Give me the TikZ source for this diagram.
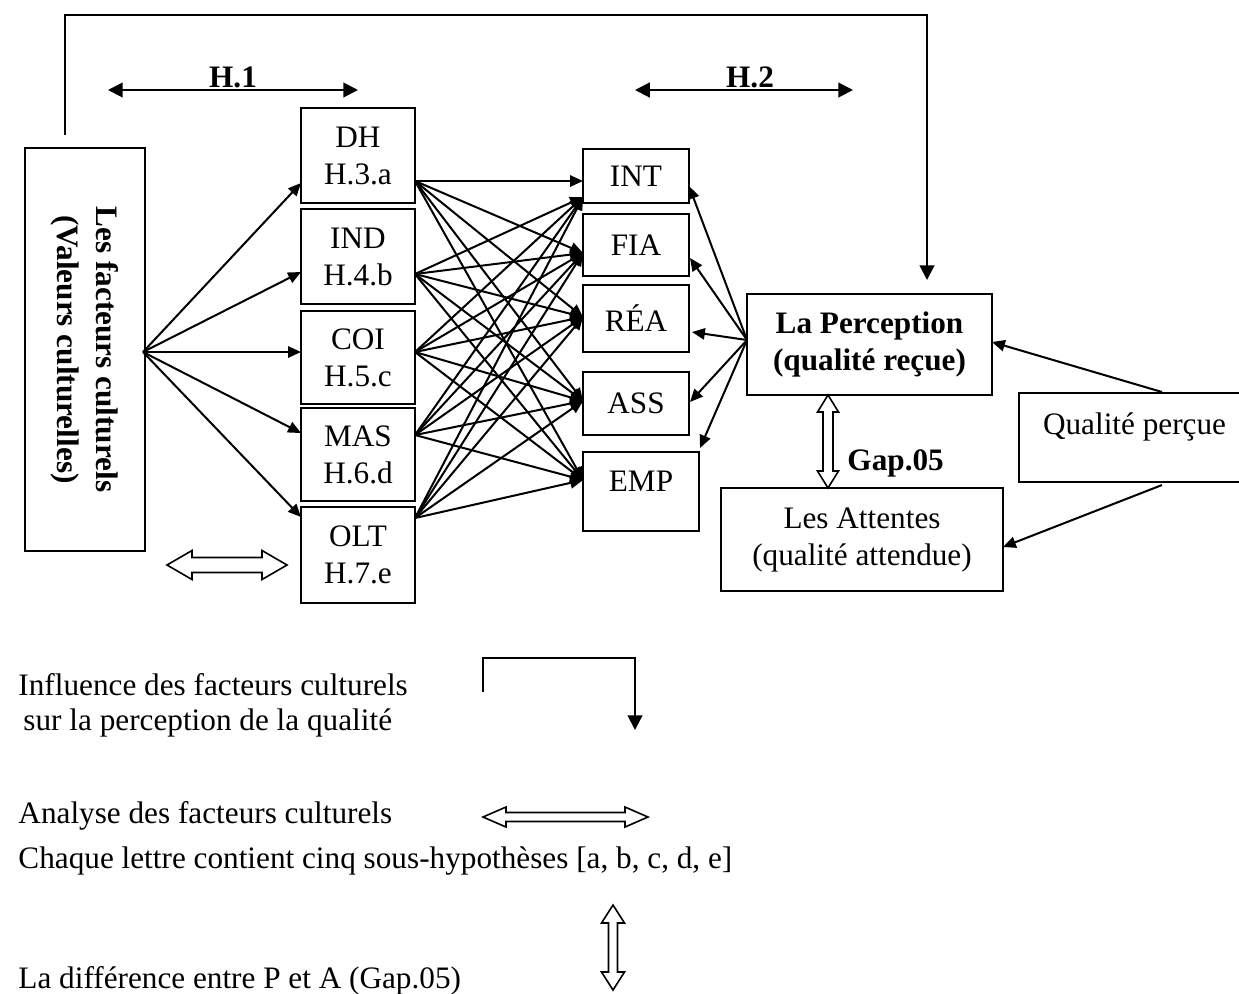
\documentclass[tikz,border=0pt]{standalone}
\usepackage{fontspec}
\setmainfont{Liberation Serif}
\usetikzlibrary{arrows.meta}

% hollow double arrows: horizontal (x1,x2,y,head length,head half width,shaft half width)
\newcommand\openHarrow[6]{%
  \draw[openarrow] (#1,#3) -- ({#1+#4},{#3-#5}) -- ({#1+#4},{#3-#6}) -- ({#2-#4},{#3-#6})
    -- ({#2-#4},{#3-#5}) -- (#2,#3) -- ({#2-#4},{#3+#5}) -- ({#2-#4},{#3+#6})
    -- ({#1+#4},{#3+#6}) -- ({#1+#4},{#3+#5}) -- cycle;}
% vertical (x,y1,y2,head length,head half width,shaft half width)
\newcommand\openVarrow[6]{%
  \draw[openarrow] (#1,#2) -- ({#1+#5},{#2+#4}) -- ({#1+#6},{#2+#4}) -- ({#1+#6},{#3-#4})
    -- ({#1+#5},{#3-#4}) -- (#1,#3) -- ({#1-#5},{#3-#4}) -- ({#1-#6},{#3-#4})
    -- ({#1-#6},{#2+#4}) -- ({#1-#5},{#2+#4}) -- cycle;}

\begin{document}
\begin{tikzpicture}[x=0.373pt,y=-0.373pt,
  font=\fontsize{11.65}{13.8}\selectfont,
  box/.style={draw,line width=0.75pt,inner sep=0pt,align=center},
  span/.style n args={4}{minimum width={(#3-#1)*0.373pt}, minimum height={(#4-#2)*0.373pt},
    at={({(#1+#3)/2},{(#2+#4)/2})}},
  link/.style={line width=0.75pt,-{Triangle[length=4.8pt,width=4.2pt]}},
  biglink/.style={line width=0.75pt,-{Triangle[length=5.5pt,width=5.5pt]}},
  bothlink/.style={line width=0.75pt,{Triangle[length=5.5pt,width=5.5pt]}-{Triangle[length=5.5pt,width=5.5pt]}},
  openarrow/.style={draw,line width=0.6pt,fill=white},
  lbl/.style={font=\bfseries\fontsize{11.65}{13.8}\selectfont},
]
\useasboundingbox (0,0) rectangle (1239,993);

% cultural factors
\node[box, span={25}{148}{145}{551}] (cult) {};
\node[rotate=-90, align=center, font=\bfseries\fontsize{11.65}{14.5}\selectfont]
  (cultxt) at (cult.center) {Les facteurs culturels\\(Valeurs culturelles)};

% cultural dimensions
\node[box, span={301}{108}{415}{203}] (dh)  {DH\\H.3.a};
\node[box, span={301}{209}{415}{304}] (ind) {IND\\H.4.b};
\node[box, span={301}{311}{415}{404}] (coi) {COI\\H.5.c};
\node[box, span={301}{408}{415}{501}] (mas) {MAS\\H.6.d};
\node[box, span={301}{507}{415}{603}] (olt) {OLT\\H.7.e};

% service quality dimensions
\node[box, span={583}{149}{689}{203}] (int) {INT};
\node[box, span={583}{214}{689}{276}] (fia) {FIA};
\node[box, span={583}{285}{689}{352}] (rea) {RÉA};
\node[box, span={583}{372}{689}{435}] (ass) {ASS};
\node[box, span={583}{452}{699}{531}, text depth=8pt] (emp) {EMP};

% perception / expectations
\node[box, span={747}{294}{992}{395}, font=\bfseries\fontsize{11.65}{13.8}\selectfont] (per)
  {La Perception\\(qualité reçue)};
\node[box, span={721}{488}{1003}{591}] (att) {Les Attentes\\(qualité attendue)};
\node[box, span={1019}{393}{1250}{482}, text depth=10pt] (qp) {Qualité perçue};

% ports on the boxes
\coordinate (hubL) at (143,352);
\coordinate (dh-in) at (301,183);
\coordinate (ind-in) at (301,272);
\coordinate (coi-in) at (301,352);
\coordinate (mas-in) at (301,433);
\coordinate (olt-in) at (301,517);
\coordinate (dh-out) at (415,181);
\coordinate (ind-out) at (415,274);
\coordinate (coi-out) at (415,352);
\coordinate (mas-out) at (415,435);
\coordinate (olt-out) at (415,518);
\coordinate (int-in1) at (583,181);
\coordinate (int-in2) at (583,197);
\coordinate (fia-in) at (583,253);
\coordinate (rea-in) at (583,317);
\coordinate (ass-in) at (583,401);
\coordinate (emp-in) at (583,480);
\coordinate (per-w) at (747,340);
\coordinate (int-r) at (689,186);
\coordinate (fia-r) at (690,258);
\coordinate (rea-r) at (692,332);
\coordinate (ass-r) at (690,402);
\coordinate (emp-r) at (700,448);
\coordinate (per-e) at (992,342);
\coordinate (att-e) at (1003,547);
\coordinate (qp-a) at (1162,392);
\coordinate (qp-b) at (1162,485);

% culture -> dimensions
\foreach \t in {dh,ind,coi,mas,olt}
  \draw[link] (hubL) -- (\t-in);

% dimensions -> quality dimensions
\draw[link] (dh-out) -- (int-in1);
\foreach \s in {ind,coi,mas,olt}
  \draw[link] (\s-out) -- (int-in2);
\foreach \s in {dh,ind,coi,mas,olt}
  \foreach \t in {fia,rea,ass,emp}
    \draw[link] (\s-out) -- (\t-in);

% perception -> quality dimensions
\foreach \t in {int,fia,rea,ass,emp}
  \draw[link] (per-w) -- (\t-r);

% perceived quality
\draw[link] (qp-a) -- (per-e);
\draw[link] (qp-b) -- (att-e);

% overall influence loop
\coordinate (loopA) at (65,135);
\coordinate (loopB) at (927,280);
\draw[biglink] (loopA) -- (65,15) -- (927,15) -- (loopB);

% hypotheses H.1 and H.2
\coordinate (h1a) at (108,90);
\coordinate (h1b) at (358,90);
\coordinate (h2a) at (635,90);
\coordinate (h2b) at (853,90);
\draw[bothlink] (h1a) -- (h1b);
\draw[bothlink] (h2a) -- (h2b);
\node[lbl] (h1) at (233,77) {H.1};
\node[lbl] (h2) at (750,77) {H.2};

% analysis arrow and gap
\openHarrow{167}{287}{565}{25}{14.5}{7.5}
\openVarrow{828}{395}{488}{17}{10.5}{5}
\node[lbl, anchor=west] (gap) at (838,463) {Gap.05};

% legend
\node[anchor=base west] (lg1) at (9,695) {Influence des facteurs culturels};
\node[anchor=base west] (lg1b) at (14,730) {sur la perception de la qualité};
\coordinate (lgA) at (483,692);
\coordinate (lgB) at (635,730);
\draw[biglink] (lgA) -- (483,658) -- (635,658) -- (lgB);

\node[anchor=base west] (lg2) at (9,823) {Analyse des facteurs culturels};
\openHarrow{483}{648}{817}{23}{10}{4.5}

\node[anchor=base west] (lg3) at (9,868) {Chaque lettre contient cinq sous-hypothèses [a, b, c, d, e]};

\node[anchor=base west] (lg4) at (9,988) {La différence entre P et A (Gap.05)};
\openVarrow{613}{905}{990}{18}{11.5}{4.5}
\end{tikzpicture}
\end{document}
